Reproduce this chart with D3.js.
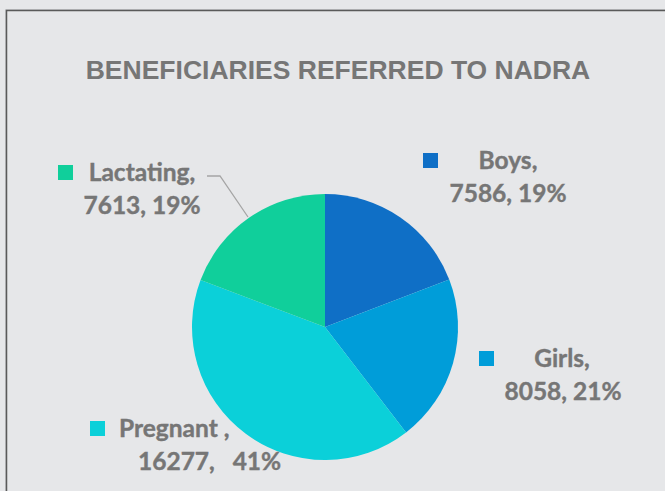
<!DOCTYPE html>
<html>
<head>
<meta charset="utf-8">
<script src="https://cdn.jsdelivr.net/npm/d3@7"></script>
<style>
  html, body { margin: 0; padding: 0; background: #e6e7e9; }
  svg { display: block; }
</style>
</head>
<body>
<svg></svg>
<script>
const size = {w: 665, h: 491};
const center = {x: 325, y: 327};
const radius = 133;

const categories = ['Boys', 'Girls', 'Pregnant', 'Lactating'];
const values = [7586, 8058, 16277, 7613];
const percents = ['19%', '21%', '41%', '19%'];
const colors = ['#0f6fc6', '#009dd9', '#0bd0d9', '#10cf9b'];

// label layout (square x,y ; line1 x/baseline/anchor ; line2)
const labelPos = [
    {sq: [423, 153], l1: [508, 169, 'middle'], l2: [508, 202, 'middle'], t1: 'Boys,'},
    {sq: [479, 351], l1: [562, 367, 'middle'], l2: [563, 400, 'middle'], t1: 'Girls,'},
    {sq: [90, 421], l1: [119, 437, 'start'], l2: [138, 470, 'start'], t1: 'Pregnant ,'},
    {sq: [58, 165], l1: [142, 181, 'middle'], l2: [142, 214, 'middle'], t1: 'Lactating,'}
];

const svg = d3.select('svg')
    .attr('width', size.w)
    .attr('height', size.h);

// chart frame
svg.append('path')
    .attr('d', `M5.5,${size.h} V9.5 H${size.w}`)
    .attr('fill', 'none')
    .attr('stroke', '#c9cacc')
    .attr('stroke-width', 1);
svg.append('path')
    .attr('d', `M6.5,${size.h} V10.5 H${size.w}`)
    .attr('fill', 'none')
    .attr('stroke', '#5a5a5a')
    .attr('stroke-width', 1.5);

svg.append('text')
    .attr('x', 338)
    .attr('y', 79)
    .attr('text-anchor', 'middle')
    .attr('font-family', 'Liberation Sans, Arial, sans-serif')
    .attr('font-weight', 'bold')
    .attr('font-size', 26.5)
    .attr('fill', '#767676')
    .text('BENEFICIARIES REFERRED TO NADRA');

const pie = d3.pie().sort(null).value(d => d);
const arc = d3.arc().innerRadius(0).outerRadius(radius);

const g = svg.append('g').attr('transform', `translate(${center.x},${center.y})`);
g.selectAll('path')
    .data(pie(values))
    .join('path')
    .attr('d', arc)
    .attr('fill', (d, i) => colors[i])
    .attr('stroke', 'none');

// leader line for Lactating
svg.append('polyline')
    .attr('points', '207,176 220,176 248,217')
    .attr('fill', 'none')
    .attr('stroke', '#a5a5a5')
    .attr('stroke-width', 1.3);

const labels = svg.append('g')
    .attr('font-family', 'Lato, Carlito, Calibri, sans-serif')
    .attr('font-weight', 'bold')
    .attr('font-size', 24.5)
    .attr('fill', '#767676')
    .attr('stroke', '#767676')
    .attr('stroke-width', 0.4);

labels.selectAll('rect')
    .data(labelPos)
    .join('rect')
    .attr('x', d => d.sq[0])
    .attr('y', d => d.sq[1])
    .attr('width', 15)
    .attr('height', 15)
    .attr('stroke', 'none')
    .attr('fill', (d, i) => colors[i]);

labels.selectAll('text.l1')
    .data(labelPos)
    .join('text')
    .classed('l1', true)
    .attr('x', d => d.l1[0])
    .attr('y', d => d.l1[1])
    .attr('text-anchor', d => d.l1[2])
    .text(d => d.t1);

labels.selectAll('text.l2')
    .data(labelPos)
    .join('text')
    .classed('l2', true)
    .attr('x', d => d.l2[0])
    .attr('y', d => d.l2[1])
    .attr('text-anchor', d => d.l2[2])
    .text((d, i) => `${values[i]},${i === 2 ? '\u00a0\u00a0 ' : ' '}${percents[i]}`);
</script>
</body>
</html>
